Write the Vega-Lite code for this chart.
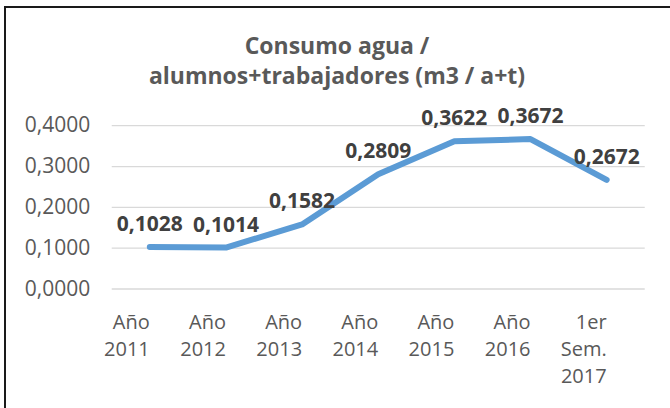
{
  "$schema": "https://vega.github.io/schema/vega-lite/v6.json",
  "width": 670,
  "height": 410,
  "autosize": {"type": "none"},
  "padding": {"left": 5, "top": 7, "right": 0, "bottom": 0},
  "background": "white",
  "config": {
    "view": {"stroke": "#1a1a1a", "strokeWidth": 2},
    "font": "Open Sans",
    "locale": {"number": {"decimal": ",", "thousands": ".", "grouping": [3], "currency": ["", " €"]}}
  },
  "title": {
    "text": ["Consumo agua /", "alumnos+trabajadores (m3 / a+t)"],
    "font": "Open Sans",
    "fontSize": 23,
    "fontWeight": "bold",
    "color": "#595959",
    "anchor": "middle",
    "baseline": "top",
    "offset": -82,
    "lineHeight": 30,
    "dx": -3
  },
  "data": {
    "values": [
      {"periodo": "Año 2011", "valor": 0.1028},
      {"periodo": "Año 2012", "valor": 0.1014},
      {"periodo": "Año 2013", "valor": 0.1582},
      {"periodo": "Año 2014", "valor": 0.2809},
      {"periodo": "Año 2015", "valor": 0.3622},
      {"periodo": "Año 2016", "valor": 0.3672},
      {"periodo": "1er Sem. 2017", "valor": 0.2672}
    ]
  },
  "layer": [
    {
      "data": {"values": [{"g": 0}, {"g": 0.1}, {"g": 0.2}, {"g": 0.3}, {"g": 0.4}]},
      "mark": {"type": "rule", "color": "#D9D9D9", "strokeWidth": 1.3},
      "encoding": {
        "y": {"field": "g", "type": "quantitative"},
        "x": {"datum": "Año 2011", "type": "nominal", "bandPosition": 0},
        "x2": {"datum": "1er Sem. 2017", "bandPosition": 1}
      }
    },
    {
      "mark": {"type": "line", "color": "#5B9BD5", "strokeWidth": 6, "strokeCap": "round", "strokeJoin": "round"},
      "encoding": {
        "x": {
          "field": "periodo",
          "type": "nominal",
          "scale": {
            "type": "band",
            "domain": ["Año 2011", "Año 2012", "Año 2013", "Año 2014", "Año 2015", "Año 2016", "1er Sem. 2017"],
            "paddingInner": 0,
            "paddingOuter": 0.8997,
            "align": 0.779
          },
          "axis": {
            "orient": "bottom",
            "offset": -128,
            "title": null,
            "domain": false,
            "ticks": false,
            "grid": false,
            "labelAngle": 0,
            "labelPadding": 33,
            "labelFontSize": 20,
            "labelFont": "Open Sans",
            "labelColor": "#595959",
            "labelLineHeight": 27,
            "labelOverlap": false,
            "labelLimit": 0,
            "labelExpr": "split(datum.label, ' ')"
          }
        },
        "y": {
          "field": "valor",
          "type": "quantitative",
          "scale": {"domain": [-0.3135, 0.6908], "nice": false, "zero": false},
          "axis": {
            "values": [0, 0.1, 0.2, 0.3, 0.4],
            "format": ".4f",
            "title": null,
            "grid": false,
            "domain": false,
            "ticks": false,
            "offset": -106.7,
            "labelPadding": 22,
            "labelFontSize": 21,
            "labelFont": "Open Sans",
            "labelColor": "#595959"
          }
        }
      }
    },
    {
      "mark": {"type": "text", "font": "Open Sans", "fontSize": 21, "fontWeight": "bold", "color": "#404040", "baseline": "alphabetic", "dy": -16},
      "encoding": {
        "x": {"field": "periodo", "type": "nominal"},
        "y": {"field": "valor", "type": "quantitative"},
        "text": {"field": "valor", "type": "quantitative", "format": ".4f"}
      }
    }
  ]
}
